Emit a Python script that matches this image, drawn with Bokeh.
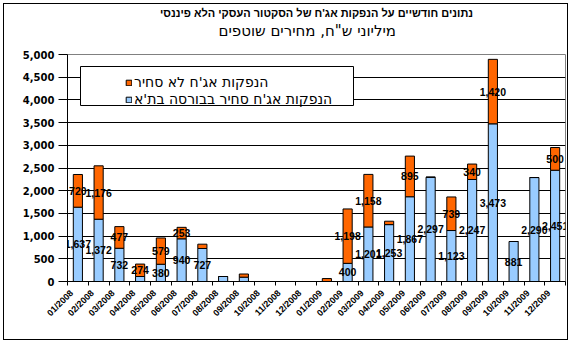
import numpy as np
from math import pi
from bokeh.plotting import figure
from bokeh.models import (ColumnDataSource, FixedTicker, NumeralTickFormatter, Title,
                          Legend, LegendItem, BoxAnnotation, Range1d)
from bokeh.core.properties import value
from bokeh.embed import file_html
from bokeh.resources import INLINE

# ---------------- data ----------------
months = ["01/2008", "02/2008", "03/2008", "04/2008", "05/2008", "06/2008",
          "07/2008", "08/2008", "09/2008", "10/2008", "11/2008", "12/2008",
          "01/2009", "02/2009", "03/2009", "04/2009", "05/2009", "06/2009",
          "07/2009", "08/2009", "09/2009", "10/2009", "11/2009", "12/2009"]
traded = [1637, 1372, 732, 110, 380, 940, 727, 110, 95, 0, 0, 0,
          0, 400, 1201, 1253, 1867, 2297, 1123, 2247, 3473, 881, 2290, 2451]
nontraded = [720, 1176, 477, 274, 579, 253, 95, 0, 70, 0, 0, 0,
             65, 1198, 1158, 75, 895, 0, 739, 340, 1420, 0, 0, 500]
y_ticks = [0, 500, 1000, 1500, 2000, 2500, 3000, 3500, 4000, 4500, 5000]

title_text = "נתונים חודשיים על הנפקות אג'ח של הסקטור העסקי הלא פיננסי"
subtitle_text = 'מיליוני ש"ח, מחירים שוטפים'
label_nontraded = "הנפקות אג'ח לא סחיר"
label_traded = "הנפקות אג'ח סחיר בבורסה בת'א"

# ---------------- build ----------------
n = len(months)
idx = np.arange(n)
shift = 0.3                      # bar centre offset relative to its tick label
xc = idx + shift
tr = np.array(traded, dtype=float)
nt = np.array(nontraded, dtype=float)
src = ColumnDataSource(dict(x=xc, t=tr, tot=tr + nt))

p = figure(width=565, height=337, x_range=Range1d(-0.5 + shift, n - 0.5 + shift),
           y_range=Range1d(0, 5000), output_backend="svg", toolbar_location=None,
           title=None, min_border_left=63, min_border_right=4, min_border_top=48,
           min_border_bottom=60)
p.styles = {"margin": "3px 0px 0px 3px", "border": "1px solid black"}
p.background_fill_color = "white"
p.border_fill_color = "white"
p.outline_line_color = "#808080"
p.outline_line_width = 1

# y axis
p.yaxis.ticker = FixedTicker(ticks=y_ticks)
p.yaxis.formatter = NumeralTickFormatter(format="0,0")
p.yaxis.major_label_text_font = "DejaVu Sans"
p.yaxis.major_label_text_font_style = "bold"
p.yaxis.major_label_text_font_size = "10px"
p.yaxis.major_label_text_color = "black"
p.yaxis.major_tick_out = 9
p.yaxis.major_tick_in = 0
p.yaxis.major_label_standoff = 4
p.yaxis.minor_tick_line_color = None
p.yaxis.axis_line_color = "black"
p.yaxis.major_tick_line_color = "black"

# x axis
p.xaxis.ticker = FixedTicker(ticks=list(idx), minor_ticks=list(np.arange(n + 1) - 0.5 + shift))
p.xaxis.major_label_overrides = {int(i): m for i, m in zip(idx, months)}
p.xaxis.major_label_orientation = pi / 4
p.xaxis.major_label_text_font = "Liberation Sans"
p.xaxis.major_label_text_font_style = "bold"
p.xaxis.major_label_text_font_size = "9px"
p.xaxis.major_label_text_color = "black"
p.xaxis.major_label_standoff = 4
p.xaxis.major_tick_line_color = None
p.xaxis.minor_tick_line_color = "black"
p.xaxis.minor_tick_out = 4
p.xaxis.minor_tick_in = 0
p.xaxis.axis_line_color = "black"

p.xgrid.grid_line_color = None
p.ygrid.ticker = FixedTicker(ticks=y_ticks[1:-1])
p.ygrid.grid_line_color = "black"
p.ygrid.grid_line_width = 1

# bars
r_t = p.vbar(x="x", bottom=0, top="t", width=0.44, source=src,
             fill_color="#99CCFF", line_color="black", line_width=1)
r_n = p.vbar(x="x", bottom="t", top="tot", width=0.44, source=src,
             fill_color="#FF6600", line_color="black", line_width=1)

# data labels (centred in segments, small segments unlabeled)
lx, ly, lt = [], [], []
for i in range(n):
    if traded[i] >= 200:
        lx.append(xc[i]); ly.append(traded[i] / 2); lt.append(f"{traded[i]:,}")
    if nontraded[i] >= 200:
        lx.append(xc[i]); ly.append(traded[i] + nontraded[i] / 2); lt.append(f"{nontraded[i]:,}")
p.text(x=lx, y=ly, text=lt, text_align="center", text_baseline="middle",
       text_font=value("Liberation Sans"), text_font_style="bold",
       text_font_size="10.5px", text_color="black")

# legend box + legend
box = BoxAnnotation(left=13, right=286, bottom=176, top=215,
                    left_units="screen", right_units="screen",
                    top_units="screen", bottom_units="screen",
                    fill_color="white", fill_alpha=1.0, line_color="black",
                    line_width=1, line_alpha=1.0)
p.add_layout(box)
legend = Legend(items=[LegendItem(label=label_nontraded, renderers=[r_n]),
                       LegendItem(label=label_traded, renderers=[r_t])],
                location=(58, 174), padding=5, spacing=1, glyph_width=7, glyph_height=7,
                label_standoff=2, label_text_font="DejaVu Sans", label_text_font_size="14px",
                label_text_color="black", border_line_color=None,
                background_fill_alpha=0.0, margin=0)
p.add_layout(legend, "center")

# titles
sub = Title(text=subtitle_text, align="left", text_font="DejaVu Sans",
            text_font_size="15px", text_font_style="normal", text_color="black", standoff=30,
            offset=151)
p.add_layout(sub, "above")
main = Title(text=title_text, align="center", text_font="Liberation Sans",
             text_font_size="11px", text_font_style="bold", text_color="black", standoff=-28)
p.add_layout(main, "above")

open("out.html", "w").write(file_html(p, INLINE))
